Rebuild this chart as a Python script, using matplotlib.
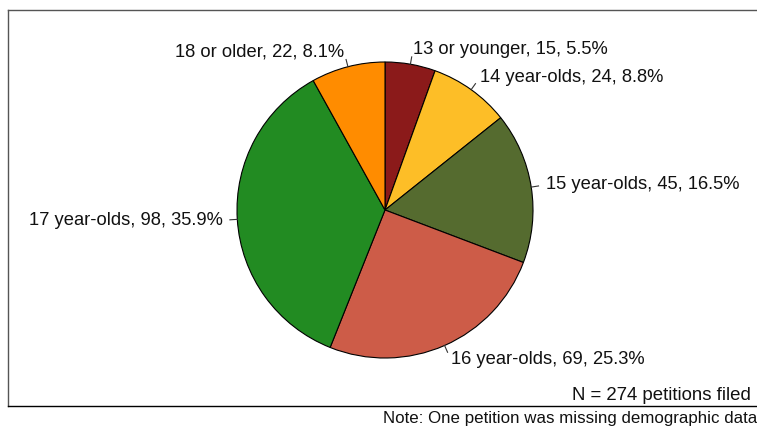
import numpy as np
import matplotlib.pyplot as plt

plt.rcParams['font.family'] = ['Liberation Sans', 'DejaVu Sans']

# Petitions by age group
groups = ["13 or younger", "14 year-olds", "15 year-olds",
          "16 year-olds", "17 year-olds", "18 or older"]
counts = [15, 24, 45, 69, 98, 22]
colors = ["#8B1A1A", "#FDBE27", "#556B2F", "#CD5C48", "#228B22", "#FF8C00"]
n_filed = 274

total = sum(counts)
labels = [f"{g}, {c}, {100 * c / total:.1f}%" for g, c in zip(groups, counts)]

fig = plt.figure(figsize=(7.57, 4.26), dpi=100)
# frame runs past the right edge of the figure
ax = fig.add_axes([8 / 757, 20 / 426, 770 / 757, 396 / 426])

cx, cy, r = 385, 216, 148
wedges, texts = ax.pie(counts, labels=labels, colors=colors, startangle=90,
                       counterclock=False, center=(cx, cy), radius=r,
                       labeldistance=1.1, frame=True,
                       wedgeprops=dict(edgecolor='black', linewidth=0.8),
                       textprops=dict(fontsize=13.2, color='#111111'))
ax.set_xlim(8, 778)
ax.set_ylim(20, 416)
ax.set_aspect('equal')
ax.set_xticks([])
ax.set_yticks([])
for s in ax.spines.values():
    s.set_color('#555555')
    s.set_linewidth(1.0)
ax.spines['bottom'].set_color('black')

# short leader ticks at each slice's mid-angle, labels aligned by side
for w, t in zip(wedges, texts):
    a = np.deg2rad((w.theta1 + w.theta2) / 2)
    t.set_ha('left' if np.cos(a) >= 0 else 'right')
    t.set_va('center')
    ax.plot([cx + r * np.cos(a), cx + 1.05 * r * np.cos(a)],
            [cy + r * np.sin(a), cy + 1.05 * r * np.sin(a)],
            color='#333333', linewidth=0.8)

ax.text(751, 31, f"N = {n_filed} petitions filed", ha='right', va='center',
        fontsize=13.4, color='#111111')
fig.text(757 / 757, 8 / 426, "Note: One petition was missing demographic data",
         ha='right', va='center', fontsize=12.2, color='#111111')

fig.savefig("out.png", dpi=100)
